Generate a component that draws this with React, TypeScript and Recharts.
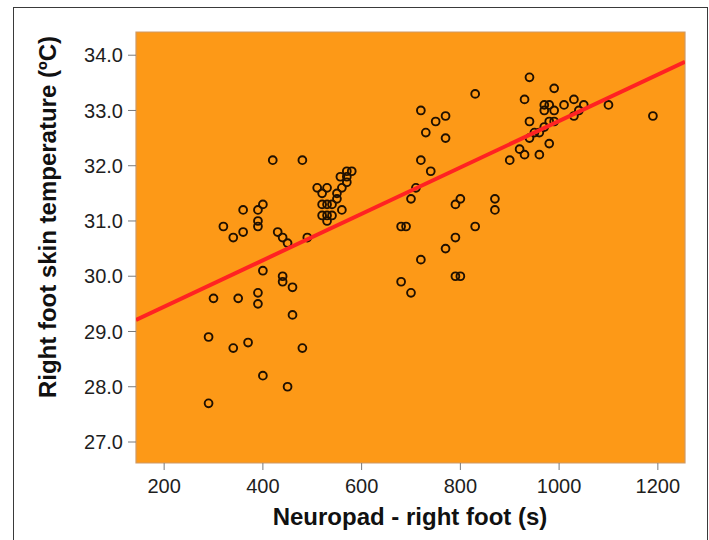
import React from "react";
import {
  ScatterChart,
  Scatter,
  XAxis,
  YAxis,
  CartesianGrid,
  ReferenceArea,
  Label,
} from "recharts";

const neuropadTimes: number[] = [
  290, 290, 300, 320, 340, 340, 350, 360, 360, 370, 390, 390, 390, 390, 390, 400, 400, 400,
  420, 430, 440, 440, 440, 450, 450, 460, 460, 480, 480, 490, 510, 520, 520, 520, 530, 530,
  530, 530, 540, 540, 550, 550, 560, 560, 557, 570, 570, 570, 580,
  680, 690, 680, 700, 700, 710, 720, 720, 720, 730, 740, 750, 770, 770, 770, 790, 790, 790,
  800, 800, 830, 830, 870, 870,
  900, 920, 930, 930, 940, 940, 940, 950, 960, 960, 970, 970, 970, 980, 980, 980, 990, 990,
  990, 1010, 1030, 1030, 1040, 1050, 1100, 1190,
];

const skinTemps: number[] = [
  27.7, 28.9, 29.6, 30.9, 30.7, 28.7, 29.6, 31.2, 30.8, 28.8, 31.0, 30.9, 31.2, 29.7, 29.5, 31.3, 30.1, 28.2,
  32.1, 30.8, 30.7, 30.0, 29.9, 30.6, 28.0, 29.8, 29.3, 32.1, 28.7, 30.7, 31.6, 31.5, 31.3, 31.1, 31.6, 31.3,
  31.1, 31.0, 31.3, 31.1, 31.4, 31.5, 31.6, 31.2, 31.8, 31.8, 31.7, 31.9, 31.9,
  30.9, 30.9, 29.9, 29.7, 31.4, 31.6, 33.0, 32.1, 30.3, 32.6, 31.9, 32.8, 32.9, 32.5, 30.5, 31.3, 30.7, 30.0,
  31.4, 30.0, 33.3, 30.9, 31.4, 31.2,
  32.1, 32.3, 32.2, 33.2, 33.6, 32.8, 32.5, 32.6, 32.6, 32.2, 33.1, 33.0, 32.7, 33.1, 32.8, 32.4, 33.4, 33.0,
  32.8, 33.1, 33.2, 32.9, 33.0, 33.1, 33.1, 32.9,
];

const fitX: number[] = [143, 1255];
const fitY: number[] = [29.21, 33.88];

const xTicks: number[] = [200, 400, 600, 800, 1000, 1200];
const yTicks: number[] = [27, 28, 29, 30, 31, 32, 33, 34];
const xDomain: [number, number] = [143, 1255];
const yDomain: [number, number] = [26.62, 34.42];

const points = neuropadTimes.map((x, i) => ({ x, y: skinTemps[i] }));
const fitLine = fitX.map((x, i) => ({ x, y: fitY[i] }));

const FONT = "'Liberation Sans', Arial, Helvetica, sans-serif";

const CircleShape = (props: any) => {
  const { cx, cy } = props;
  if (cx == null || cy == null) return null;
  return (
    <circle cx={cx} cy={cy} r={3.9} fill="none" stroke="#201000" strokeWidth={1.9} />
  );
};

const NoShape = () => null;

export default function App() {
  return (
    <div
      style={{
        position: "absolute",
        left: 0,
        top: 0,
        width: 709,
        height: 540,
        background: "#fff",
        overflow: "hidden",
      }}
    >
      <div
        style={{
          position: "absolute",
          left: 13,
          top: 7,
          width: 693,
          height: 560,
          borderLeft: "1px solid #3a3a3a",
          borderTop: "1px solid #3a3a3a",
          borderRight: "1px solid #3a3a3a",
        }}
      />
      <div style={{ position: "absolute", left: 0, top: 0 }}>
        <ScatterChart
          width={709}
          height={540}
          margin={{ top: 32, right: 24, bottom: 0, left: 0 }}
        >
          <CartesianGrid
            horizontal={false}
            vertical={false}
            fill="#fd9917"
            fillOpacity={1}
          />
          <ReferenceArea
            x1={xDomain[0]}
            x2={xDomain[1]}
            y1={yDomain[0]}
            y2={yDomain[1]}
            fill="none"
            fillOpacity={0}
            stroke="#cf9a66"
            strokeWidth={1.2}
            ifOverflow="visible"
          />
          <XAxis
            type="number"
            dataKey="x"
            domain={xDomain}
            ticks={xTicks}
            allowDataOverflow
            height={77}
            axisLine={false}
            tickLine={{ stroke: "#7a7a7a" }}
            tickSize={7}
            tickMargin={9}
            tick={{ fontSize: 20, fill: "#1e1e1e", fontFamily: FONT }}
          >
            <Label
              content={() => (
                <text
                  x={410}
                  y={525}
                  textAnchor="middle"
                  fontFamily={FONT}
                  fontWeight="bold"
                  fontSize={24}
                  fill="#111"
                >
                  Neuropad - right foot (s)
                </text>
              )}
            />
          </XAxis>
          <YAxis
            type="number"
            dataKey="y"
            domain={yDomain}
            ticks={yTicks}
            allowDataOverflow
            width={136}
            axisLine={false}
            tickLine={{ stroke: "#7a7a7a" }}
            tickSize={8}
            tickMargin={5}
            tickFormatter={(v: number) => v.toFixed(1)}
            tick={{ fontSize: 20, fill: "#1e1e1e", fontFamily: FONT }}
          >
            <Label
              content={() => (
                <text
                  x={56}
                  y={217}
                  transform="rotate(-90 56 217)"
                  textAnchor="middle"
                  fontFamily={FONT}
                  fontWeight="bold"
                  fontSize={24}
                  fill="#111"
                >
                  Right foot skin temperature (ºC)
                </text>
              )}
            />
          </YAxis>
          <Scatter
            data={points}
            shape={CircleShape}
            isAnimationActive={false}
          />
          <Scatter
            data={fitLine}
            shape={NoShape}
            line={{ stroke: "#ff2222", strokeWidth: 4 }}
            isAnimationActive={false}
          />
        </ScatterChart>
      </div>
    </div>
  );
}
